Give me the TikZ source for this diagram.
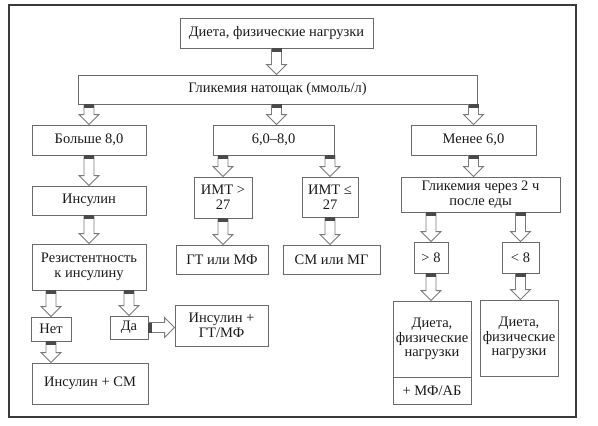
\documentclass[tikz,border=0pt]{standalone}
\usepackage{fontspec}
\setmainfont{Liberation Serif}
\usetikzlibrary{calc}
\definecolor{boxgray}{HTML}{6A6A6A}
\definecolor{framegray}{HTML}{3A3A3A}
\definecolor{txt}{HTML}{1A1A1A}
\definecolor{arrgray}{HTML}{7A7A7A}
\definecolor{blockgray}{HTML}{4A4A4A}
\tikzset{
  box/.style={draw=boxgray, line width=0.9pt, fill=white, align=center, inner sep=0pt, text=txt,
    font=\fontsize{14.5}{14.8}\selectfont},
  arrline/.style={draw=arrgray, line width=0.9pt, fill=white, line join=miter},
  arrblock/.style={fill=blockgray, draw=none},
}
\newcommand\barrow[2]{%
  \coordinate (ba-s) at (#1);
  \coordinate (ba-e) at (#2);
  \coordinate (ba-h) at ($(ba-e)!10pt!(ba-s)$);
  \coordinate (ba-k) at ($(ba-s)!4pt!(ba-e)$);
  \draw[arrline] ($(ba-s)!5pt!90:(ba-e)$) -- ($(ba-h)!5pt!90:(ba-e)$) -- ($(ba-h)!10pt!90:(ba-e)$)
     -- (ba-e) -- ($(ba-h)!10pt!-90:(ba-e)$) -- ($(ba-h)!5pt!-90:(ba-e)$) -- ($(ba-s)!5pt!-90:(ba-e)$) -- cycle;
  \fill[arrblock] ($(ba-s)!5pt!90:(ba-e)$) -- ($(ba-k)!5pt!90:(ba-e)$) -- ($(ba-k)!5pt!-90:(ba-e)$) -- ($(ba-s)!5pt!-90:(ba-e)$) -- cycle;
}
\begin{document}
\begin{tikzpicture}[x=1pt,y=-1pt]
\useasboundingbox[fill=white] (0,0) rectangle (598,426);
\draw[framegray, line width=1.4pt] (9,5) rectangle (576,417);

\node[box, minimum width=193pt, minimum height=30pt] (top) at (276.5,33) {Диета, физические нагрузки};
\node[box, minimum width=399pt, minimum height=29pt] (gl) at (277.5,89.5) {Гликемия натощак (ммоль/л)};
\node[box, minimum width=114pt, minimum height=30pt] (b8) at (89,140) {Больше 8,0};
\node[box, minimum width=121pt, minimum height=30pt] (mid) at (273.5,140) {6,0–8,0};
\node[box, minimum width=125pt, minimum height=30pt] (men) at (473.5,140) {Менее 6,0};
\node[box, minimum width=114pt, minimum height=29pt] (ins) at (89,200.5) {Инсулин};
\node[box, minimum width=114pt, minimum height=46pt] (res) at (89,267) {Резистентность\\к инсулину};
\node[box, minimum width=40pt, minimum height=24pt] (net) at (51,329) {Нет};
\node[box, minimum width=38pt, minimum height=23pt] (da) at (129,327.5) {Да};
\node[box, minimum width=93pt, minimum height=41pt] (ins3) at (221.5,325.5) {Инсулин +\\ГТ/МФ};
\node[box, minimum width=116pt, minimum height=41pt] (ins2) at (90,383.5) {Инсулин + СМ};
\node[box, minimum width=58pt, minimum height=41pt] (imt1) at (223,197.5) {ИМТ >\\27};
\node[box, minimum width=56pt, minimum height=40pt] (imt2) at (330,197) {ИМТ ≤\\27};
\node[box, minimum width=92pt, minimum height=29pt] (gt) at (222,259.5) {ГТ или МФ};
\node[box, minimum width=97pt, minimum height=29pt] (sm) at (331.5,259.5) {СМ или МГ};
\node[box, minimum width=159pt, minimum height=35pt] (gl2) at (480.5,194.5) {Гликемия через 2 ч\\после еды};
\node[box, minimum width=34pt, minimum height=31pt] (gt8) at (431,257.5) {> 8};
\node[box, minimum width=37pt, minimum height=31pt] (lt8) at (520.5,257.5) {< 8};
\node[box, minimum width=78pt, minimum height=76pt] (d1) at (432,339) {Диета,\\физические\\нагрузки};
\node[box, minimum width=78pt, minimum height=27pt] (d1b) at (432,390.5) {+ МФ/АБ};
\node[box, minimum width=78pt, minimum height=76pt] (d2) at (519,338) {Диета,\\физические\\нагрузки};

\barrow{top.south}{gl.north -| top.south}
\barrow{gl.south -| b8.north}{b8.north}
\barrow{gl.south -| top.south}{mid.north -| top.south}
\barrow{gl.south -| men.north}{men.north}
\barrow{b8.south}{ins.north}
\barrow{ins.south}{res.north}
\barrow{res.south -| net.north}{net.north}
\barrow{res.south -| da.north}{da.north}
\barrow{da.east}{ins3.west |- da.east}
\barrow{net.south}{ins2.north -| net.south}
\barrow{mid.south -| imt1.north}{imt1.north}
\barrow{mid.south -| imt2.north}{imt2.north}
\barrow{imt1.south}{gt.north -| imt1.south}
\barrow{imt2.south}{sm.north -| imt2.south}
\barrow{men.south}{gl2.north -| men.south}
\barrow{gl2.south -| gt8.north}{gt8.north}
\barrow{gl2.south -| lt8.north}{lt8.north}
\barrow{gt8.south}{d1.north -| gt8.south}
\barrow{lt8.south}{d2.north -| lt8.south}
\end{tikzpicture}
\end{document}
